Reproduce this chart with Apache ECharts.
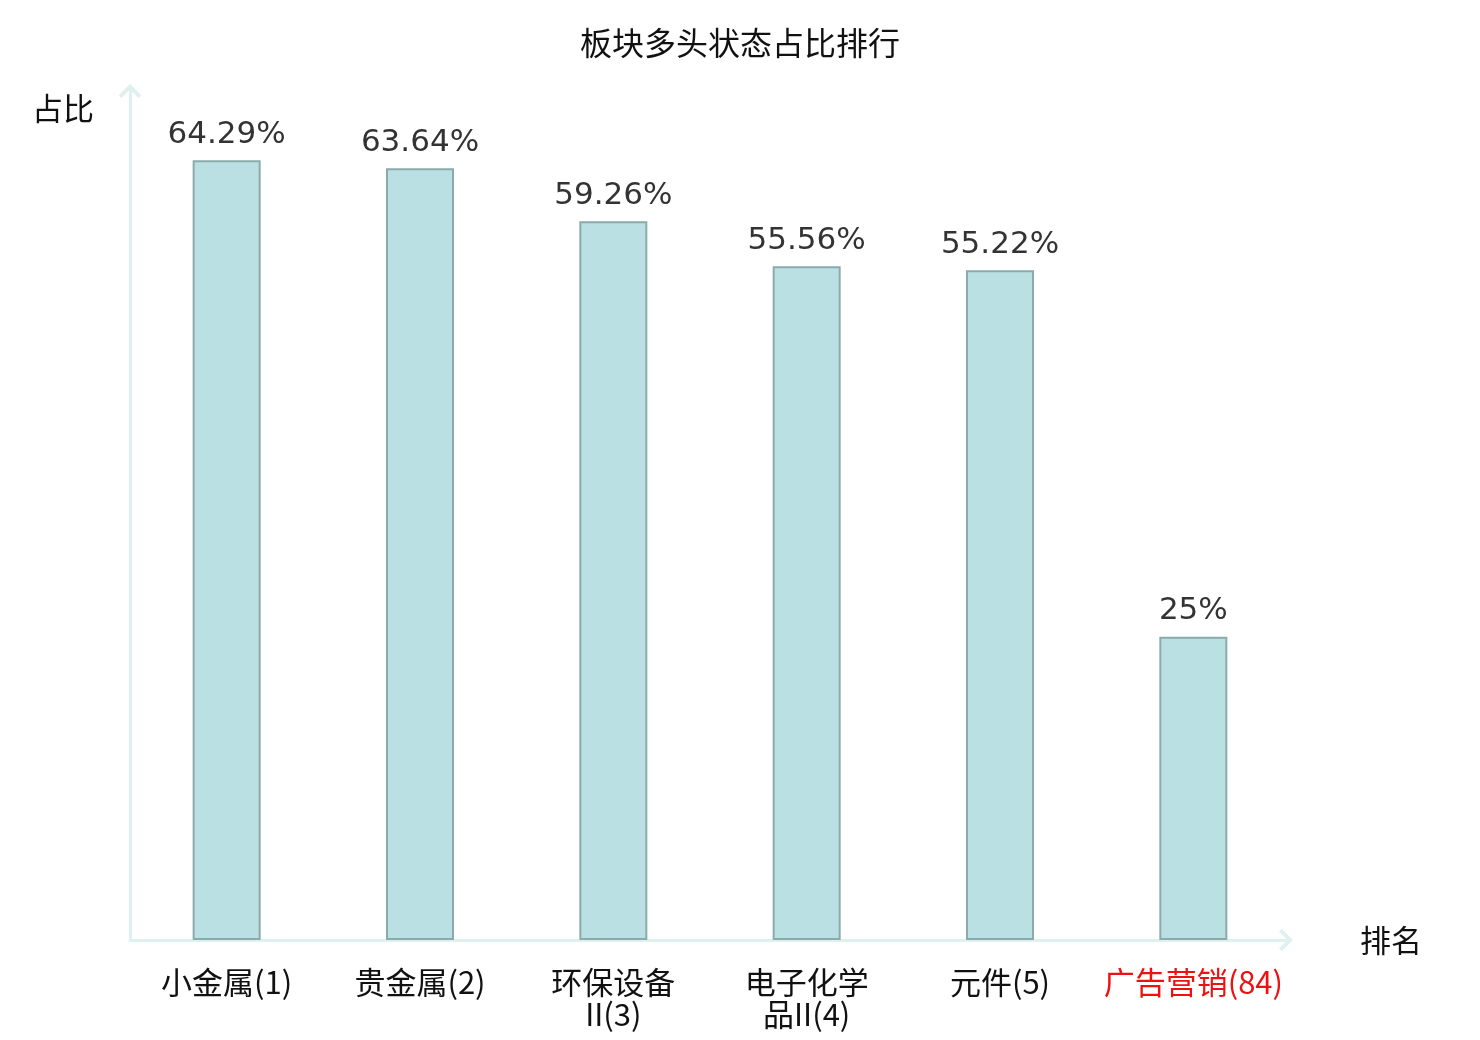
<!DOCTYPE html>
<html>
<head>
<meta charset="utf-8">
<script src="https://cdn.jsdelivr.net/npm/echarts@6/dist/echarts.min.js"></script>
<style>
  html, body { margin: 0; padding: 0; background: #fff; }
  #chart { width: 1480px; height: 1040px; }
</style>
</head>
<body>
<div id="chart"></div>
<script>
// 板块名称(排名)
const categories = ['小金属(1)', '贵金属(2)', '环保设备II(3)', '电子化学品II(4)', '元件(5)', '广告营销(84)']
// 多头状态占比(%)
const ratios = [64.29, 63.64, 59.26, 55.56, 55.22, 25]
// 需要标红的板块
const highlight = ['广告营销(84)']

const cjk = '"Noto Sans CJK SC", "Noto Sans", sans-serif'
// 开口箭头
const chevron = 'path://M0,10 L10,0 L20,10 L17.6,12.4 L10,4.8 L2.4,12.4 Z'

// 名称超过4个字就每4个字换行, 排名跟在后面
function wrapName (v) {
  let m = v.match(/^(.*?)(\(\d+\))$/)
  let name = m ? m[1] : v
  let rank = m ? m[2] : ''
  if (name.length <= 4) return name + rank
  let parts = []
  for (let i = 0; i < name.length; i += 4) {
    parts.push(name.slice(i, i + 4))
  }
  return parts.join('\n') + rank
}

let chart = echarts.init(document.getElementById('chart'))
let option = {
  backgroundColor: '#fff',
  title: {
    text: '板块多头状态占比排行',
    left: 'center',
    top: 22,
    textStyle: {
      fontFamily: cjk,
      fontSize: 32,
      fontWeight: 'normal',
      color: '#111'
    }
  },
  grid: {
    left: 130,
    right: 190,
    top: 91,
    bottom: 100,
    containLabel: false
  },
  xAxis: {
    type: 'category',
    data: categories,
    name: '排名',
    nameGap: 70,
    nameTextStyle: {fontFamily: cjk, fontSize: 31, color: '#111', verticalAlign: 'middle'},
    axisLine: {
      show: true,
      symbol: ['none', chevron],
      symbolSize: [24, 14],
      symbolOffset: [0, -4],
      lineStyle: {color: '#dff1ef', width: 3}
    },
    axisTick: {show: false},
    axisLabel: {
      fontFamily: cjk,
      fontSize: 31,
      lineHeight: 32,
      margin: 26,
      interval: 0,
      formatter: function (v) {
        let s = wrapName(v)
        return highlight.indexOf(v) >= 0 ? '{red|' + s + '}' : s
      },
      color: '#111',
      rich: {
        red: {color: '#ee1111', fontFamily: cjk, fontSize: 31, lineHeight: 32}
      }
    }
  },
  yAxis: {
    type: 'value',
    min: 0,
    max: 70,
    name: '占比',
    nameLocation: 'end',
    nameGap: 0,
    nameTextStyle: {
      fontFamily: cjk,
      fontSize: 31,
      color: '#111',
      align: 'right',
      padding: [0, 36, -33, 0]
    },
    axisLine: {
      show: true,
      symbol: ['none', chevron],
      symbolSize: [24, 14],
      lineStyle: {color: '#dff1ef', width: 3}
    },
    axisTick: {show: false},
    axisLabel: {show: false},
    splitLine: {show: false}
  },
  series: [
    {
      type: 'bar',
      data: ratios,
      barWidth: 68,
      itemStyle: {
        color: '#bbe0e3',
        borderColor: '#8aabac',
        borderWidth: 2
      },
      label: {
        show: true,
        position: 'top',
        distance: 10,
        formatter: function (p) { return p.value + '%' },
        fontFamily: '"DejaVu Sans", sans-serif',
        fontSize: 31,
        color: '#333'
      }
    }
  ]
}
chart.setOption(option)
window.addEventListener('resize', () => {
  chart.resize()
})
</script>
</body>
</html>
